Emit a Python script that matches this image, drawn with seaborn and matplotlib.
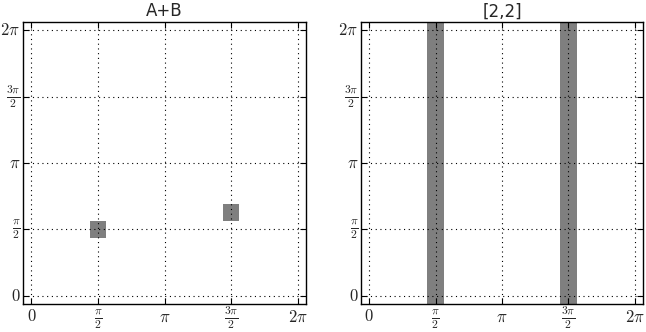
import numpy as np
import pandas as pd
import matplotlib
matplotlib.use("Agg")
import matplotlib.pyplot as plt
import seaborn as sns

# grid of 17 samples on [0, 2pi] in both directions
n_grid = 17
titles = ["A+B", "[2,2]"]
# filled cells as (x index, y index); index k <-> k*2pi/16
ab_cells = [(4, 4), (12, 5)]
# filled full columns for [2,2]
col_cells = [4, 12]
fill_value = 1.0

tick_idx = [0, 4, 8, 12, 16]
tick_labels = [r"$0$", r"$\frac{\pi}{2}$", r"$\pi$", r"$\frac{3\pi}{2}$", r"$2\pi$"]

sns.set_style("white")
plt.rcParams["font.family"] = ["DejaVu Sans"]
plt.rcParams["mathtext.fontset"] = "cm"
plt.rcParams["lines.scale_dashes"] = False

grid_ab = np.zeros((n_grid, n_grid))
for xi, yi in ab_cells:
    grid_ab[yi, xi] = fill_value
grid_22 = np.zeros((n_grid, n_grid))
for xi in col_cells:
    grid_22[:, xi] = fill_value

fig = plt.figure(figsize=(6.46, 3.32), dpi=100)
ax1 = fig.add_axes([23 / 646, 28 / 332, 283 / 646, 282 / 332])
ax2 = fig.add_axes([361 / 646, 28 / 332, 282 / 646, 282 / 332])

for ax, data, title in zip([ax1, ax2], [grid_ab, grid_22], titles):
    sns.heatmap(pd.DataFrame(data), ax=ax, cmap=["white", "#7f7f7f"],
                vmin=0, vmax=1, cbar=False, square=False)
    ax.set_xlim(0, n_grid)
    ax.set_ylim(0, n_grid)
    ticks = [k + 0.5 for k in tick_idx]
    ax.set_xticks(ticks)
    ax.set_yticks(ticks)
    ax.set_xticklabels(tick_labels, rotation=0, fontsize=12, va="baseline")
    ax.set_yticklabels(tick_labels, rotation=0, fontsize=12)
    ax.set_xlabel("")
    ax.set_ylabel("")
    for s in ax.spines.values():
        s.set_visible(True)
        s.set_color("black")
        s.set_linewidth(1.0)
    ax.tick_params(direction="in", length=4, width=0.8, color="black",
                   top=True, right=True, bottom=True, left=True)
    ax.tick_params(axis="x", pad=12.5)
    ax.tick_params(axis="y", pad=2)
    ax.set_axisbelow(False)
    ax.grid(True, linestyle=(0, (0.8, 2.6)), color="black", linewidth=0.8)
    ax.set_title(title, fontsize=12, pad=4)

fig.savefig("out.png", dpi=100)
